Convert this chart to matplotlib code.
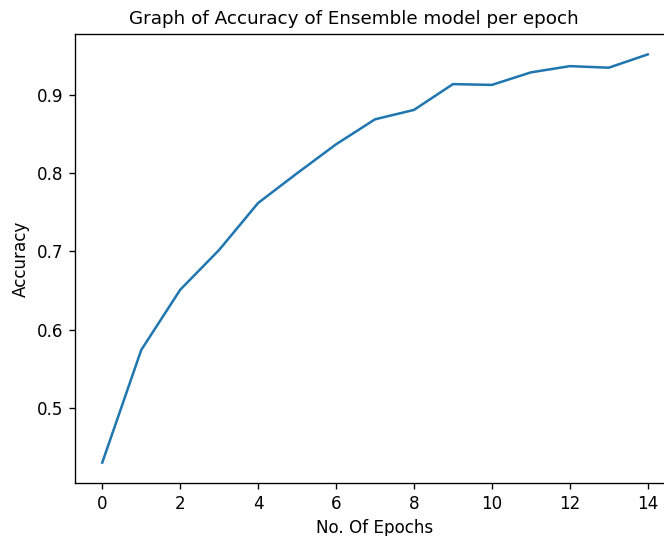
import matplotlib
matplotlib.use("Agg")
import matplotlib.pyplot as plt

epochs = list(range(15))
accuracy = [0.430, 0.574, 0.651, 0.702, 0.762, 0.800, 0.837, 0.869, 0.881,
            0.914, 0.913, 0.929, 0.937, 0.935, 0.952]

s = 1.21  # picture is a scaled-up default figure

fig = plt.figure(figsize=(6.64, 5.36), dpi=100)
ax = fig.add_axes([75 / 664, 53 / 536, 600 / 664, 449 / 536])

ax.plot(epochs, accuracy, color="#2077b0", linewidth=1.5 * s)
ax.set_title("Graph of Accuracy of Ensemble model per epoch",
             fontsize=13.2, pad=6 * s, x=0.465)
ax.set_xlabel("No. Of Epochs", fontsize=10 * s, labelpad=4 * s)
ax.set_ylabel("Accuracy", fontsize=10 * s, labelpad=4 * s)
ax.set_xticks(range(0, 15, 2))
ax.tick_params(labelsize=10 * s, length=3.5 * s, width=0.8 * s, pad=3.5 * s)
for sp in ax.spines.values():
    sp.set_linewidth(0.8 * s)

fig.savefig("out.png", dpi=100)
